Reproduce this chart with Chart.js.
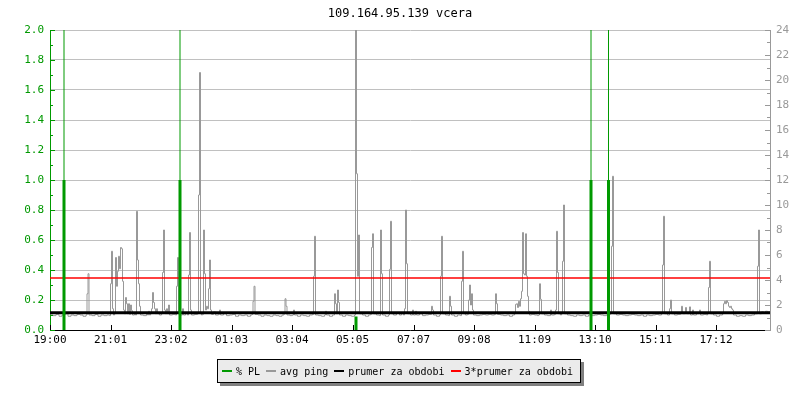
<!DOCTYPE html>
<html>
<head>
<meta charset="utf-8">
<title>109.164.95.139 vcera</title>
<script src="https://cdn.jsdelivr.net/npm/chart.js@4.4.1/dist/chart.umd.min.js"></script>
<style>
  body { margin: 0; background: #fff; }
  #wrap { position: relative; width: 800px; height: 400px; }
  #legend {
    position: absolute; left: 217px; top: 359px; width: 358px; height: 22px;
    border: 1px solid #000; background: #ebebeb; box-shadow: 3px 3px 0 #808080;
    display: flex; align-items: center; padding-left: 4px; box-sizing: content-box;
    font: 10px "DejaVu Sans Mono", monospace; color: #000; white-space: pre;
  }
  #legend .sw { display: inline-block; width: 10px; height: 2px; margin-right: 4px; }
  #legend .it { display: flex; align-items: center; margin-right: 6px; }
</style>
</head>
<body>
<div id="wrap">
  <canvas id="chart" width="800" height="400"></canvas>
  <div id="legend"></div>
</div>
<script>
// minutes after 19:00
const tickMin = [0, 121, 242, 363, 484, 605, 727, 848, 969, 1090, 1211, 1332];
const tickLabels = ["19:00", "21:01", "23:02", "01:03", "03:04", "05:05", "07:07", "09:08", "11:09", "13:10", "15:11", "17:12"];

// % PL (left axis)
const plMin = [28, 260, 612, 1082, 1117];
const plVal = [1.0, 1.0, 0.09, 1.0, 1.0];
const plMarkMin = [28, 260, 1082, 1117];

// avg ping [minute, ms] (right axis)
const ping = [
  [0,1.2],[6,1.15],[12,1.25],[18,1.1],[24,1.2],[30,1.3],[36,1.1],[42,1.2],[48,1.15],[54,1.25],[60,1.2],[66,1.1],[72,1.2],
  [74,2.9],[76,4.5],[78,1.2],[84,1.15],[90,1.25],[96,1.1],[102,1.2],[108,1.15],[114,1.2],[119,1.15],
  [121,3.7],[123,6.3],[125,1.7],[127,1.2],[129,1.3],
  [131,5.8],[133,3.5],[135,4.7],[137,5.9],[139,4.9],[141,6.6],[143,6.5],[145,3.9],[147,1.6],[149,1.3],
  [151,2.6],[153,2.1],[155,1.3],[157,2.1],[159,1.25],[161,2.0],[163,1.55],[165,1.2],[169,1.3],[171,1.2],
  [173,9.5],[175,5.6],[177,3.7],[179,1.9],[181,1.2],
  [187,1.15],[193,1.3],[195,1.2],[197,1.5],[199,1.2],[201,1.3],[203,1.7],[205,3.0],[207,2.2],[209,1.7],[211,1.3],[213,1.7],[215,1.3],[219,1.2],[223,1.3],
  [225,4.6],[227,8.0],[229,1.6],[231,1.3],[233,1.7],[235,1.3],[237,2.0],[239,1.2],[245,1.25],[251,1.2],
  [253,3.5],[255,5.8],[257,1.3],[261,1.2],[265,1.7],[267,1.2],[271,1.3],[275,1.2],
  [277,4.4],[279,7.8],[281,1.6],[283,1.2],[289,1.25],[295,1.3],
  [297,10.8],[299,20.6],[301,1.3],[303,1.2],[305,1.25],
  [307,8.0],[309,4.5],[311,1.6],[313,1.9],[315,1.7],[317,3.3],[319,5.6],[321,1.6],[323,1.25],[327,1.45],[331,1.2],[337,1.25],[339,1.6],[341,1.2],
  [347,1.3],[353,1.15],[359,1.2],[365,1.25],[371,1.1],[377,1.2],[383,1.15],[389,1.2],[395,1.1],[401,1.2],[404,1.25],
  [406,2.3],[408,3.5],[410,1.25],[416,1.2],[422,1.1],[428,1.2],[434,1.15],[440,1.1],[446,1.2],[452,1.15],[458,1.1],[464,1.2],[468,1.3],
  [470,2.5],[472,1.9],[474,1.2],[480,1.15],[485,1.2],[487,1.6],[489,1.2],[495,1.1],[501,1.2],[507,1.15],[513,1.1],[519,1.2],[525,1.25],
  [527,4.3],[529,7.5],[531,1.2],[537,1.15],[543,1.1],[549,1.2],[551,1.5],[553,1.2],[559,1.1],[565,1.2],[567,1.2],
  [569,2.9],[571,2.1],[573,1.3],[575,3.2],[577,2.2],[579,1.2],[585,1.1],[591,1.2],[597,1.15],[603,1.1],[609,1.2],
  [611,26],[613,12.5],[615,4.3],[617,7.6],[619,1.3],[625,1.2],[631,1.1],[637,1.2],[641,1.25],
  [643,6.6],[645,7.7],[647,1.3],[653,1.2],[659,1.15],
  [661,8.0],[663,4.5],[665,1.2],[671,1.1],[677,1.2],
  [679,4.85],[681,8.7],[683,1.3],[687,1.2],[693,1.4],[699,1.2],[703,1.3],[707,1.2],
  [709,1.7],[711,9.6],[713,5.3],[715,1.3],[721,1.2],[725,1.6],[727,1.2],[731,1.5],[733,1.2],[739,1.3],[745,1.15],[751,1.2],[757,1.25],
  [763,1.9],[765,1.6],[767,1.2],[773,1.1],[779,1.2],
  [781,4.3],[783,7.5],[785,1.3],[791,1.2],[797,1.15],
  [799,2.7],[801,1.9],[803,1.2],[809,1.1],[815,1.2],[821,1.15],
  [823,3.9],[825,6.3],[827,1.3],[831,1.2],[835,1.25],
  [837,2.4],[839,3.6],[841,2.0],[843,2.9],[845,1.6],[847,1.2],[853,1.15],[859,1.2],[865,1.25],[871,1.2],[877,1.25],[883,1.2],[889,1.25],
  [891,2.9],[893,2.1],[895,1.25],[901,1.2],[907,1.15],[913,1.2],[919,1.1],[925,1.2],[929,1.3],
  [931,2.05],[933,2.1],[935,1.8],[937,2.3],[939,1.9],[941,2.5],[943,3.1],[945,7.8],[947,4.5],[949,4.4],[951,7.7],[953,4.3],[955,2.7],[957,1.5],[959,1.2],
  [963,1.25],[969,1.2],[975,1.15],[977,1.2],
  [979,3.7],[981,2.45],[983,1.3],[989,1.2],[995,1.15],[1001,1.6],[1003,1.2],[1009,1.25],
  [1011,1.6],[1013,7.9],[1015,4.6],[1017,1.3],[1021,1.2],[1023,1.3],
  [1025,5.5],[1027,10.0],[1029,1.3],[1035,1.2],[1041,1.15],[1047,1.1],[1053,1.2],[1059,1.15],[1065,1.2],[1071,1.1],[1077,1.2],
  [1083,1.15],[1089,1.2],[1095,1.25],[1101,1.2],[1107,1.15],[1113,1.2],[1119,1.25],[1121,1.3],
  [1123,6.7],[1125,12.3],[1127,1.3],[1133,1.2],[1139,1.25],[1145,1.2],[1151,1.15],[1157,1.2],[1163,1.25],[1169,1.2],[1175,1.15],
  [1181,1.2],[1187,1.1],[1193,1.2],[1199,1.15],[1205,1.2],[1211,1.25],[1217,1.2],[1223,1.3],
  [1225,5.2],[1227,9.1],[1229,1.3],[1235,1.2],[1239,1.7],[1241,2.4],[1243,1.3],[1249,1.2],[1255,1.25],[1261,1.3],[1263,1.9],[1265,1.3],
  [1271,1.8],[1273,1.3],[1279,1.85],[1281,1.2],[1285,1.6],[1287,1.2],[1293,1.3],[1299,1.6],[1301,1.2],[1307,1.25],[1313,1.2],[1315,1.3],
  [1317,3.4],[1319,5.5],[1321,1.3],[1327,1.2],[1333,1.1],[1339,1.2],[1345,1.3],
  [1347,2.1],[1349,2.3],[1351,2.1],[1353,2.35],[1355,2.2],[1357,1.9],[1359,1.8],[1361,1.9],[1363,1.7],[1365,1.6],[1367,1.2],
  [1373,1.1],[1379,1.15],[1385,1.1],[1391,1.2],[1397,1.15],[1403,1.2],[1409,1.3],[1413,1.3],
  [1415,5.1],[1417,8.0],[1419,1.3],[1423,1.45],[1427,1.4],[1431,1.5],[1435,1.45],[1440,1.4]
];

const prumer = 1.385;   // ms
const prumer3 = 4.16;   // ms

const green = "#009900";
const gray = "#999999";
const mono = "'DejaVu Sans Mono', monospace";

const legendNames = ["% PL", "avg ping", "prumer za obdobi", "3*prumer za obdobi"];
const legendColors = [green, gray, "#000000", "#ff0000"];

const plData = [];
plMin.forEach((m, i) => { plData.push({ x: m, y: 0 }, { x: m, y: plVal[i] }, { x: m, y: null }); });
const markData = [];
plMarkMin.forEach((m) => { markData.push({ x: m, y: 0 }, { x: m, y: 2 }, { x: m, y: null }); });

const innerTicks = {
  id: "innerTicks",
  afterDraw(chart) {
    const { ctx, chartArea, scales } = chart;
    ctx.save();
    ctx.lineWidth = 1;
    ctx.strokeStyle = green;
    for (let i = 0; i <= 20; i++) {
      const y = Math.round(scales.y.getPixelForValue(i / 10)) + 0.5;
      ctx.beginPath();
      ctx.moveTo(chartArea.left, y);
      ctx.lineTo(chartArea.left + (i % 2 === 0 ? 5 : 3), y);
      ctx.stroke();
    }
    ctx.strokeStyle = gray;
    for (let i = 0; i <= 24; i++) {
      const y = Math.round(scales.y2.getPixelForValue(i)) + 0.5;
      ctx.beginPath();
      ctx.moveTo(chartArea.right, y);
      ctx.lineTo(chartArea.right - (i % 2 === 0 ? 5 : 3), y);
      ctx.stroke();
    }
    ctx.strokeStyle = "#000";
    tickMin.forEach((m) => {
      const x = Math.round(scales.x.getPixelForValue(m)) + 0.5;
      ctx.beginPath();
      ctx.moveTo(x, chartArea.bottom);
      ctx.lineTo(x, chartArea.bottom - 5);
      ctx.stroke();
    });
    ctx.restore();
  },
};

new Chart(document.getElementById("chart"), {
  type: "line",
  data: {
    datasets: [
      { label: "% PL", data: plData, yAxisID: "y", borderColor: green, borderWidth: 3, pointRadius: 0, spanGaps: false },
      { label: "pl mark", data: markData, yAxisID: "y", borderColor: green, borderWidth: 1, pointRadius: 0, spanGaps: false },
      { label: "prumer za obdobi", data: [{ x: 0, y: prumer }, { x: 1440, y: prumer }], yAxisID: "y2", borderColor: "#000", borderWidth: 3, pointRadius: 0 },
      { label: "3*prumer za obdobi", data: [{ x: 0, y: prumer3 }, { x: 1440, y: prumer3 }], yAxisID: "y2", borderColor: "#ff0000", borderWidth: 1.5, pointRadius: 0 },
      { label: "avg ping", data: ping.map((p) => ({ x: p[0], y: p[1] })), yAxisID: "y2", borderColor: gray, borderWidth: 1, pointRadius: 0, stepped: true },
    ],
  },
  options: {
    responsive: false,
    animation: false,
    layout: { padding: 0 },
    plugins: {
      legend: { display: false },
      tooltip: { enabled: false },
      title: {
        display: true,
        text: "109.164.95.139 vcera",
        color: "#000",
        font: { family: mono, size: 12, weight: "normal" },
        padding: { top: 7, bottom: 8.6 },
      },
    },
    scales: {
      x: {
        type: "linear",
        min: 0,
        max: 1440,
        afterBuildTicks: (axis) => { axis.ticks = tickMin.map((v) => ({ value: v })); },
        afterFit: (s) => { s.height = 70; },
        ticks: {
          autoSkip: false,
          maxRotation: 0,
          color: "#000",
          padding: 4,
          font: { family: mono, size: 11 },
          callback: (v, i) => tickLabels[i],
        },
        grid: { display: false, drawTicks: false, tickLength: 0 },
        border: { color: "#000", width: 1 },
      },
      y: {
        position: "left",
        min: 0,
        max: 2,
        afterFit: (s) => { s.width = 50; },
        ticks: {
          stepSize: 0.2,
          color: green,
          padding: 6,
          font: { family: mono, size: 11 },
          callback: (v) => Number(v).toFixed(1),
        },
        grid: { color: "#c0c0c0", drawTicks: false },
        border: { color: green, width: 1 },
      },
      y2: {
        position: "right",
        min: 0,
        max: 24,
        afterFit: (s) => { s.width = 30; },
        ticks: {
          stepSize: 2,
          color: gray,
          padding: 6,
          font: { family: mono, size: 11 },
        },
        grid: { drawOnChartArea: false, drawTicks: false },
        border: { color: gray, width: 1 },
      },
    },
  },
  plugins: [innerTicks],
});

const $legend = document.getElementById("legend");
legendNames.forEach((name, i) => {
  const it = document.createElement("span");
  it.className = "it";
  it.innerHTML = '<span class="sw" style="background:' + legendColors[i] + '"></span>' + name;
  $legend.appendChild(it);
});
</script>
</body>
</html>
